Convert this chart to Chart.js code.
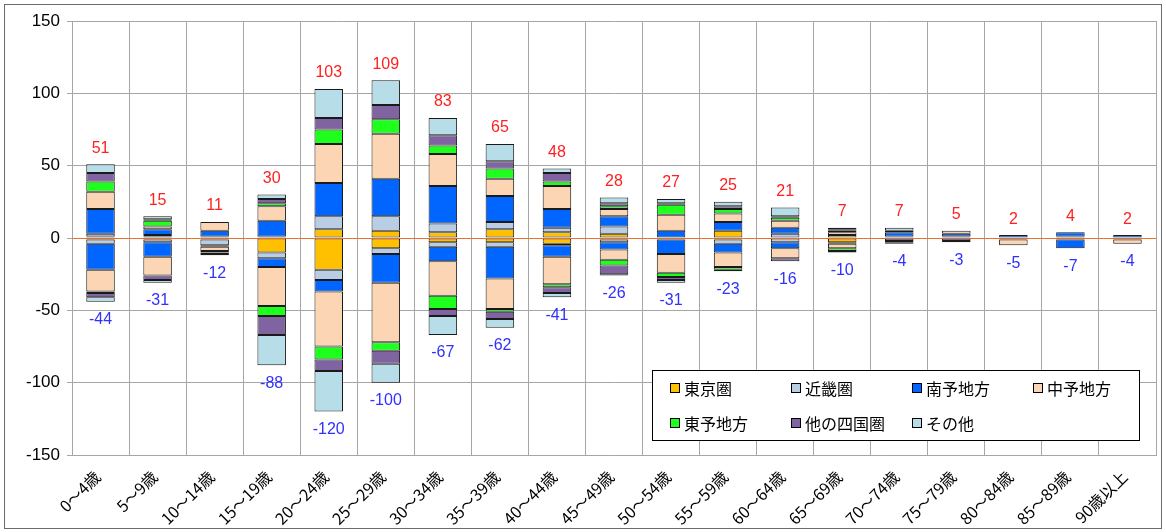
<!DOCTYPE html>
<html lang="ja">
<head>
<meta charset="utf-8">
<title>年齢別 転入・転出</title>
<script src="https://cdn.jsdelivr.net/npm/chart.js@4.4.1/dist/chart.umd.min.js"></script>
<style>
  html, body { margin: 0; padding: 0; background: #fff; }
  #wrap { width: 1166px; height: 532px; }
</style>
</head>
<body>
<div id="wrap"><canvas id="chart" width="1166" height="532"></canvas></div>
<script>
// Categories
const AGE_LABELS = ['0～4歳', '5～9歳', '10～14歳', '15～19歳', '20～24歳', '25～29歳', '30～34歳',
    '35～39歳', '40～44歳', '45～49歳', '50～54歳', '55～59歳', '60～64歳', '65～69歳',
    '70～74歳', '75～79歳', '80～84歳', '85～89歳', '90歳以上'];

const REGIONS = ['東京圏', '近畿圏', '南予地方', '中予地方', '東予地方', '他の四国圏', 'その他'];
const REGION_COLORS = ['#FFC000', '#B9CDE5', '#0066FF', '#FCD5B5', '#1EFF1E', '#8064A2', '#B7DEE8'];

// Inflow (positive side)
const IN_TOKYO   = [1, 1, 1, 0, 6, 5, 4, 6, 4, 3, 0, 5, 0, 2, 0, 0, 0, 0, 0];
const IN_KINKI   = [2, 1, 0, 1, 9, 10, 6, 5, 3, 5, 0, 0, 3, 0, 1, 1, 0, 1, 0];
const IN_NANYO   = [17, 4, 4, 11, 23, 26, 26, 18, 13, 7, 5, 6, 4, 0, 3, 2, 2, 3, 2];
const IN_CHUYO   = [12, 2, 6, 10, 27, 31, 22, 12, 16, 5, 11, 6, 5, 2, 1, 2, 0, 0, 0];
const IN_TOYO    = [7, 4, 0, 2, 10, 10, 6, 7, 3, 2, 7, 3, 2, 1, 0, 0, 0, 0, 0];
const IN_SHIKOKU = [6, 1, 0, 3, 8, 10, 7, 5, 6, 2, 1, 2, 1, 1, 0, 0, 0, 0, 0];
const IN_OTHER   = [6, 2, 0, 3, 20, 17, 12, 12, 3, 4, 3, 3, 6, 1, 2, 0, 0, 0, 0];

// Outflow (negative side)
const OUT_TOKYO   = [-1, -1, -1, -10, -22, -7, -3, -3, -4, -1, 0, -1, 0, -3, 0, 0, 0, 0, 0];
const OUT_KINKI   = [-3, -2, -4, -4, -7, -4, -3, -3, -1, -2, -1, -3, -3, -1, 0, 0, 0, -1, -1];
const OUT_NANYO   = [-18, -10, -1, -6, -8, -20, -10, -22, -8, -5, -10, -6, -4, 0, -2, -2, -1, -6, 0];
const OUT_CHUYO   = [-15, -13, -3, -27, -38, -41, -24, -21, -19, -7, -13, -10, -7, -3, 0, -1, -4, 0, -3];
const OUT_TOYO    = [-1, 0, -1, -7, -9, -6, -9, -2, -2, -4, -3, -2, 0, -2, -1, 0, 0, 0, 0];
const OUT_SHIKOKU = [-3, -3, -1, -13, -8, -9, -5, -5, -4, -6, -2, 0, -2, -1, -1, 0, 0, 0, 0];
const OUT_OTHER   = [-3, -2, -1, -21, -28, -13, -13, -6, -3, -1, -2, -1, 0, 0, 0, 0, 0, 0, 0];

// Printed totals
const IN_TOTALS  = [51, 15, 11, 30, 103, 109, 83, 65, 48, 28, 27, 25, 21, 7, 7, 5, 2, 4, 2];
const OUT_TOTALS = [-44, -31, -12, -88, -120, -100, -67, -62, -41, -26, -31, -23, -16, -10, -4, -3, -5, -7, -4];

// Y axis
const Y_MIN = -150;
const Y_MAX = 150;
const Y_STEP = 50;

const IN_SERIES = [IN_TOKYO, IN_KINKI, IN_NANYO, IN_CHUYO, IN_TOYO, IN_SHIKOKU, IN_OTHER];
const OUT_SERIES = [OUT_TOKYO, OUT_KINKI, OUT_NANYO, OUT_CHUYO, OUT_TOYO, OUT_SHIKOKU, OUT_OTHER];

const JP_FONT = '"Noto Sans CJK JP", "Noto Sans", sans-serif';
const NUM_FONT = '"Liberation Sans", Arial, sans-serif';
const GRID = '#A6A6A6';

// zero segments are skipped so they don't draw heavy black lines
const makeDataset = (data, i) => ({
    label: REGIONS[i],
    data: data.map(v => (v === 0 ? null : v)),
    backgroundColor: REGION_COLORS[i],
    borderColor: '#1a1a1a',
    borderWidth: 1,
    borderSkipped: false,
    stack: 'all'
});

const datasets = [
    ...IN_SERIES.map(makeDataset),
    ...OUT_SERIES.map(makeDataset)
];

// White background + outer frame
const framePlugin = {
    id: 'frame',
    beforeDraw: (chart) => {
        const ctx = chart.ctx;
        ctx.save();
        ctx.fillStyle = '#fff';
        ctx.fillRect(0, 0, chart.width, chart.height);
        ctx.strokeStyle = '#6b6b6b';
        ctx.lineWidth = 1;
        ctx.strokeRect(4.5, 4.5, chart.width - 9, chart.height - 8);
        ctx.restore();
    }
};

// Zero line and total labels
const totalsPlugin = {
    id: 'totals',
    afterDatasetsDraw: (chart) => {
        const ctx = chart.ctx;
        const y = chart.scales.y;
        const area = chart.chartArea;
        const meta = chart.getDatasetMeta(0);

        ctx.save();
        const y0 = Math.round(y.getPixelForValue(0)) + 0.5;
        ctx.strokeStyle = '#E8702A';
        ctx.lineWidth = 1.2;
        ctx.beginPath();
        ctx.moveTo(area.left, y0);
        ctx.lineTo(area.right, y0);
        ctx.stroke();

        ctx.font = '16px ' + NUM_FONT;
        ctx.textAlign = 'center';
        ctx.textBaseline = 'middle';
        AGE_LABELS.forEach((_, i) => {
            const x = meta.data[i].x;
            const inSum = IN_SERIES.reduce((s, arr) => s + arr[i], 0);
            const outSum = OUT_SERIES.reduce((s, arr) => s + arr[i], 0);
            ctx.fillStyle = '#FF2020';
            ctx.fillText(String(IN_TOTALS[i]), x, y.getPixelForValue(inSum) - 16);
            ctx.fillStyle = '#3030FF';
            ctx.fillText(String(OUT_TOTALS[i]), x, y.getPixelForValue(outSum) + 18);
        });
        ctx.restore();
    }
};

// Legend box inside the plot
const legendPlugin = {
    id: 'boxLegend',
    afterDraw: (chart) => {
        const ctx = chart.ctx;
        const box = { x: 652.5, y: 370.5, w: 487, h: 70 };
        const cols = [670, 791, 912, 1033];
        const rows = [388, 423];

        ctx.save();
        ctx.fillStyle = '#fff';
        ctx.fillRect(box.x, box.y, box.w, box.h);
        ctx.strokeStyle = '#000';
        ctx.lineWidth = 1;
        ctx.strokeRect(box.x, box.y, box.w, box.h);

        ctx.font = '16px ' + JP_FONT;
        ctx.textBaseline = 'middle';
        ctx.textAlign = 'left';
        REGIONS.forEach((name, i) => {
            const cx = cols[i % 4];
            const cy = rows[Math.floor(i / 4)];
            ctx.fillStyle = REGION_COLORS[i];
            ctx.fillRect(cx + 0.5, cy - 4.5, 9, 9);
            ctx.strokeRect(cx + 0.5, cy - 4.5, 9, 9);
            ctx.fillStyle = '#000';
            ctx.fillText(name, cx + 14, cy + 1);
        });
        ctx.restore();
    }
};

new Chart(document.getElementById('chart'), {
    type: 'bar',
    data: { labels: AGE_LABELS, datasets: datasets },
    options: {
        responsive: false,
        animation: false,
        layout: { padding: { top: 21, right: 10, left: 0, bottom: 0 } },
        plugins: {
            legend: { display: false },
            tooltip: { enabled: false }
        },
        datasets: {
            bar: { categoryPercentage: 1.0, barPercentage: 0.5 }
        },
        scales: {
            x: {
                stacked: true,
                afterFit: (s) => { s.height = 77; },
                grid: { color: GRID, drawTicks: false, offset: true },
                border: { color: GRID },
                ticks: {
                    autoSkip: false,
                    maxRotation: 45,
                    minRotation: 45,
                    padding: 12,
                    labelOffset: -3,
                    color: '#000',
                    font: { family: JP_FONT, size: 16 }
                }
            },
            y: {
                stacked: true,
                min: Y_MIN,
                max: Y_MAX,
                afterFit: (s) => { s.width = 72; },
                grid: { color: GRID, tickLength: 5 },
                border: { color: GRID },
                ticks: {
                    stepSize: Y_STEP,
                    padding: 7,
                    color: '#000',
                    font: { family: NUM_FONT, size: 17 }
                }
            }
        }
    },
    plugins: [framePlugin, totalsPlugin, legendPlugin]
});
</script>
</body>
</html>
